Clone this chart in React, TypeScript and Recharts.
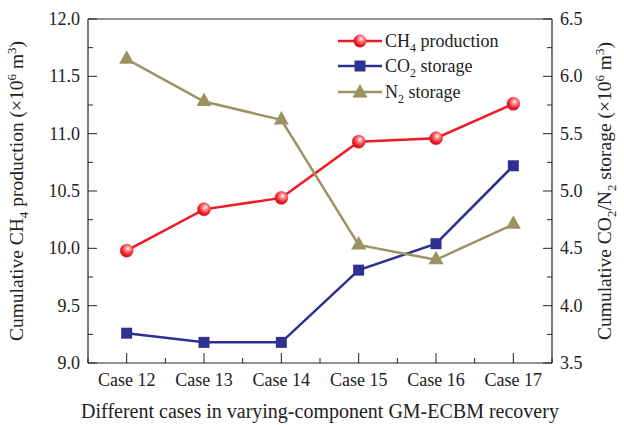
import React from 'react';
import { LineChart, Line, XAxis, YAxis, ReferenceLine } from 'recharts';

const cases = ['Case 12', 'Case 13', 'Case 14', 'Case 15', 'Case 16', 'Case 17'];
const ch4Production = [9.98, 10.34, 10.44, 10.93, 10.96, 11.26];
const co2Storage = [3.76, 3.68, 3.68, 4.31, 4.54, 5.22];
const n2Storage = [6.15, 5.78, 5.62, 4.53, 4.40, 4.71];
const leftTicks = [9, 9.25, 9.5, 9.75, 10, 10.25, 10.5, 10.75, 11, 11.25, 11.5, 11.75, 12];
const rightTicks = [3.5, 3.75, 4, 4.25, 4.5, 4.75, 5, 5.25, 5.5, 5.75, 6, 6.25, 6.5];

const data = cases.map((name, i) => ({
  name,
  ch4: ch4Production[i],
  co2: co2Storage[i],
  n2: n2Storage[i],
}));

const W = 624;
const H = 425;
const LEFT_W = 88;
const RIGHT_W = 72;
const TOP = 19;
const XAXIS_H = 62;
const PLOT_W = W - LEFT_W - RIGHT_W;
const STEP = PLOT_W / cases.length;
const FONT = '"Liberation Serif", "Times New Roman", serif';
const RED = '#ed1c24';
const BLUE = '#2e3192';
const OLIVE = '#9b9462';
const AX = '#222';

const isMajor = (v: number) => Math.abs(v * 2 - Math.round(v * 2)) < 1e-6;

const LeftTick = (props: any) => {
  const { x, y, payload } = props;
  const v = payload.value as number;
  const major = isMajor(v);
  return (
    <g>
      <line x1={x} x2={x + (major ? 9 : 5)} y1={y} y2={y} stroke={AX} strokeWidth={1} />
      {major && (
        <text x={x - 8} y={y} dy={6} textAnchor="end" fontFamily={FONT} fontSize={18} fill="#222">
          {v.toFixed(1)}
        </text>
      )}
    </g>
  );
};

const RightTick = (props: any) => {
  const { x, y, payload } = props;
  const v = payload.value as number;
  const major = isMajor(v);
  return (
    <g>
      <line x1={x} x2={x - (major ? 9 : 5)} y1={y} y2={y} stroke={AX} strokeWidth={1} />
      {major && (
        <text x={x + 8} y={y} dy={6} textAnchor="start" fontFamily={FONT} fontSize={18} fill="#222">
          {v.toFixed(1)}
        </text>
      )}
    </g>
  );
};

const BottomTick = (props: any) => {
  const { x, y, payload, index } = props;
  const last = index === cases.length - 1;
  return (
    <g>
      <line x1={x} x2={x} y1={y} y2={y - 10} stroke={AX} strokeWidth={1} />
      <line x1={x - STEP / 2} x2={x - STEP / 2} y1={y} y2={y - 5} stroke={AX} strokeWidth={1} />
      {last && <line x1={x + STEP / 2} x2={x + STEP / 2} y1={y} y2={y - 5} stroke={AX} strokeWidth={1} />}
      <text x={x} y={y + 23} textAnchor="middle" fontFamily={FONT} fontSize={18} fill="#222">
        {payload.value}
      </text>
    </g>
  );
};

const CircleDot = (props: any) => {
  const { cx, cy, index } = props;
  if (cx == null || cy == null) return null;
  return <circle key={`c${index}`} cx={cx} cy={cy} r={6.5} fill="url(#ballGrad)" stroke={RED} strokeWidth={0.5} />;
};

const SquareDot = (props: any) => {
  const { cx, cy, index } = props;
  if (cx == null || cy == null) return null;
  return <rect key={`s${index}`} x={cx - 5.5} y={cy - 5.5} width={11} height={11} fill={BLUE} />;
};

const TriDot = (props: any) => {
  const { cx, cy, index } = props;
  if (cx == null || cy == null) return null;
  return (
    <polygon
      key={`t${index}`}
      points={`${cx},${cy - 9} ${cx - 7.5},${cy + 4.5} ${cx + 7.5},${cy + 4.5}`}
      fill={OLIVE}
    />
  );
};

const LegendBox = () => {
  const row = (color: string, marker: React.ReactNode, label: React.ReactNode) => (
    <div style={{ display: 'flex', alignItems: 'center', height: 25.5 }}>
      <svg width={44} height={16} style={{ marginRight: 3 }}>
        <line x1={0} x2={44} y1={8} y2={8} stroke={color} strokeWidth={2.5} />
        {marker}
      </svg>
      <span style={{ fontFamily: FONT, fontSize: 18, color: '#222', lineHeight: '20px' }}>{label}</span>
    </div>
  );
  return (
    <div style={{ position: 'absolute', left: 338, top: 28, width: 210 }}>
      {row(RED, <circle cx={22} cy={8} r={6.5} fill="url(#ballGrad)" />, <>CH<sub style={{ fontSize: 12, lineHeight: 0 }}>4</sub> production</>)}
      {row(BLUE, <rect x={16.5} y={2.5} width={11} height={11} fill={BLUE} />, <>CO<sub style={{ fontSize: 12, lineHeight: 0 }}>2</sub> storage</>)}
      {row(OLIVE, <polygon points="22,0 14.5,13.5 29.5,13.5" fill={OLIVE} />, <>N<sub style={{ fontSize: 12, lineHeight: 0 }}>2</sub> storage</>)}
    </div>
  );
};

const LeftLabel = () => (
  <text
    transform={`translate(23, ${TOP + (H - TOP - XAXIS_H) / 2}) rotate(-90)`}
    textAnchor="middle"
    fontFamily={FONT}
    fontSize={19.5}
    fill="#222"
  >
    Cumulative CH<tspan dy={5} fontSize={13}>4</tspan>
    <tspan dy={-5}> production (×10</tspan>
    <tspan dy={-7} fontSize={13}>6</tspan>
    <tspan dy={7}> m</tspan>
    <tspan dy={-7} fontSize={13}>3</tspan>
    <tspan dy={7}>)</tspan>
  </text>
);

const RightLabel = () => (
  <text
    transform={`translate(${W - 13}, ${TOP + (H - TOP - XAXIS_H) / 2}) rotate(-90)`}
    textAnchor="middle"
    fontFamily={FONT}
    fontSize={19.5}
    fill="#222"
  >
    Cumulative CO<tspan dy={5} fontSize={13}>2</tspan>
    <tspan dy={-5}>/N</tspan>
    <tspan dy={5} fontSize={13}>2</tspan>
    <tspan dy={-5}> storage (×10</tspan>
    <tspan dy={-7} fontSize={13}>6</tspan>
    <tspan dy={7}> m</tspan>
    <tspan dy={-7} fontSize={13}>3</tspan>
    <tspan dy={7}>)</tspan>
  </text>
);

export default function App() {
  return (
    <div style={{ position: 'absolute', left: 0, top: 0, width: W, height: H, background: '#fff' }}>
      <svg width={0} height={0} style={{ position: 'absolute' }}>
        <defs>
          <radialGradient id="ballGrad" cx="0.6" cy="0.35" r="0.65">
            <stop offset="0%" stopColor="#ffffff" />
            <stop offset="30%" stopColor="#ff8a8a" />
            <stop offset="75%" stopColor={RED} />
            <stop offset="100%" stopColor="#c4121a" />
          </radialGradient>
        </defs>
      </svg>
      <LineChart width={W} height={H} data={data} margin={{ top: TOP, right: 0, left: 0, bottom: 0 }}>
        <XAxis
          dataKey="name"
          height={XAXIS_H}
          padding={{ left: STEP / 2, right: STEP / 2 }}
          tickSize={0}
          tickMargin={0}
          tickLine={false}
          interval={0}
          axisLine={{ stroke: AX, strokeWidth: 1.2 }}
          tick={<BottomTick />}
          label={{
            value: 'Different cases in varying-component GM-ECBM recovery',
            position: 'insideBottom',
            offset: 7,
            style: { fontFamily: FONT, fontSize: 20, fill: '#222' },
          }}
        />
        <YAxis
          yAxisId="left"
          width={LEFT_W}
          domain={[9, 12]}
          ticks={leftTicks}
          interval={0}
          tickSize={0}
          tickMargin={0}
          tickLine={false}
          axisLine={{ stroke: AX, strokeWidth: 1.2 }}
          tick={<LeftTick />}
        />
        <YAxis
          yAxisId="right"
          orientation="right"
          width={RIGHT_W}
          domain={[3.5, 6.5]}
          ticks={rightTicks}
          interval={0}
          tickSize={0}
          tickMargin={0}
          tickLine={false}
          axisLine={{ stroke: AX, strokeWidth: 1.2 }}
          tick={<RightTick />}
        />
        <ReferenceLine yAxisId="left" y={12} stroke={AX} strokeWidth={1.2} />
        <Line yAxisId="left" dataKey="ch4" stroke={RED} strokeWidth={2.5} dot={<CircleDot />} isAnimationActive={false} />
        <Line yAxisId="right" dataKey="co2" stroke={BLUE} strokeWidth={2.5} dot={<SquareDot />} isAnimationActive={false} />
        <Line yAxisId="right" dataKey="n2" stroke={OLIVE} strokeWidth={2.5} dot={<TriDot />} isAnimationActive={false} />
        <LeftLabel />
        <RightLabel />
      </LineChart>
      <LegendBox />
    </div>
  );
}
